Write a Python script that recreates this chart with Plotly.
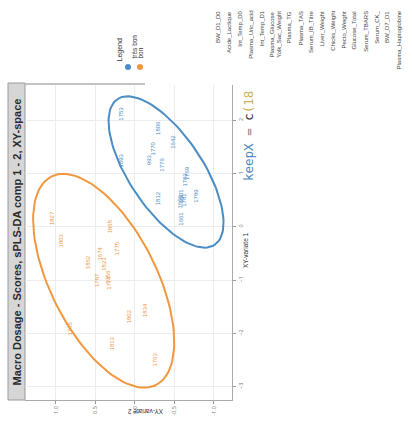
import numpy as np
import plotly.graph_objects as go

# ---- data ----
groups = ["très bon", "bon"]
colors = {"très bon": "#4a8cc4", "bon": "#f0973f"}

tb_names = ["1753", "1806", "1642", "1893", "1770", "993", "1776", "1769",
            "1782", "1812", "1801", "1663", "1781", "1789", "1661"]
tb_var1 = [2.13, 1.85, 1.59, 1.25, 1.47, 1.25, 1.16, 1.00, 0.88, 0.53, 0.59, 0.47, 0.50, 0.59, 0.16]
tb_var2 = [0.17, -0.29, -0.48, 0.17, -0.23, -0.18, -0.34, -0.67, -0.63, -0.29, -0.59, -0.57, -0.63, -0.78, -0.59]

b_names = ["1827", "1803", "1865", "1775", "1862", "1674", "1823", "1787",
           "1756", "1774", "1802", "1834", "1765", "1813", "1763"]
b_var1 = [0.16, -0.25, 0.00, -0.41, -0.66, -0.50, -0.69, -1.00, -0.94, -1.06, -1.69, -1.56, -1.91, -2.19, -2.50]
b_var2 = [1.05, 0.93, 0.32, 0.23, 0.59, 0.44, 0.40, 0.48, 0.34, 0.32, 0.08, -0.13, 0.82, 0.29, -0.25]

var1_ticks = [2, 1, 0, -1, -2, -3]
var2_ticks = [1.0, 0.5, 0.0, -0.5, -1.0]
var2_ticklabels = ["1.0", "0.5", "0.0", "-0.5", "-1.0"]

selected_vars = ["BW_D1_D0", "Acide_Lactique", "Int_Temp_D0", "Plasma_Uric_acid",
                 "Int_Temp_D1", "Plasma_Glucose", "Yolk_Sac_Weight", "Plasma_TG",
                 "Plasma_TAS", "Serum_IB_Titre", "Liver_Weight", "Chicks_Weight",
                 "Pecto_Weight", "Glucose_Total", "Serum_TBARS", "Serum_CK_",
                 "BW_D7_D1", "Plasma_Haptoglobine"]

title_text = "Macro Dosage - Scores, sPLS-DA comp 1 - 2, XY-space"

W, H = 412, 428
def px(x):
    return x / W
def py(y):
    return 1 - y / H

def conf_ellipse(a, b, level_t=2.5, n=120):
    pts = np.column_stack([a, b])
    c = pts.mean(axis=0)
    cov = np.cov(pts.T)
    vals, vecs = np.linalg.eigh(cov)
    t = np.linspace(0, 2 * np.pi, n)
    circ = np.column_stack([np.cos(t), np.sin(t)]) * np.sqrt(vals) * level_t
    e = circ @ vecs.T + c
    return e[:, 0], e[:, 1]

fig = go.Figure()

series = [("très bon", tb_names, tb_var1, tb_var2), ("bon", b_names, b_var1, b_var2)]
annotations = []
for g, names, v1, v2 in series:
    ev2, ev1 = conf_ellipse(v2, v1)
    fig.add_trace(go.Scatter(x=ev2, y=ev1, mode="lines",
                             line=dict(color=colors[g], width=2), showlegend=False,
                             hoverinfo="skip"))
    fig.add_trace(go.Scatter(x=v2, y=v1, mode="markers", marker=dict(size=1, opacity=0),
                             text=names, showlegend=False))
    for nm, a, b in zip(names, v1, v2):
        annotations.append(dict(x=b, y=a, xref="x", yref="y", text=nm, showarrow=False,
                                textangle=-90, font=dict(size=6, color=colors[g],
                                                         family="Liberation Sans")))

# title strip
shapes = [
    dict(type="rect", xref="paper", yref="paper", x0=px(8), x1=px(25), y0=py(400), y1=py(83),
         fillcolor="#d6d6d6", line=dict(color="#9a9a9a", width=1), layer="below"),
    dict(type="line", xref="paper", yref="paper", x0=px(25), x1=px(145), y0=py(84), y1=py(84),
         line=dict(color="#b0b0b0", width=1.5)),
]
annotations.append(dict(x=px(16.5), y=py(242), xref="paper", yref="paper", text="<b>" + title_text + "</b>",
                        showarrow=False, textangle=-90, xanchor="center", yanchor="middle",
                        font=dict(size=11, color="#2a2a2a", family="Liberation Sans")))

# axis titles
annotations.append(dict(x=px(245), y=py(250), xref="paper", yref="paper", text="XY-variate 1",
                        showarrow=False, textangle=-90, font=dict(size=6.5, color="#333", family="Liberation Sans")))
annotations.append(dict(x=px(125), y=py(417), xref="paper", yref="paper", text="XY-variate 2",
                        showarrow=False, textangle=180, font=dict(size=6.5, color="#333", family="Liberation Sans")))

# legend
annotations.append(dict(x=px(113), y=py(64), xref="paper", yref="paper", text="Legend", yanchor="bottom",
                        showarrow=False, textangle=-90, font=dict(size=7, color="#333", family="Liberation Sans")))
for i, g in enumerate(groups):
    xc = [128, 140][i]
    shapes.append(dict(type="circle", xref="paper", yref="paper", x0=px(xc - 3), x1=px(xc + 3),
                       y0=py(70), y1=py(64), fillcolor=colors[g], line=dict(width=0)))
    annotations.append(dict(x=px(xc), y=py(61), xref="paper", yref="paper", text=g, yanchor="bottom",
                            showarrow=False, textangle=-90,
                            font=dict(size=6.5, color="#333", family="Liberation Sans")))

# selected variables list
xs = np.linspace(218, 403, len(selected_vars))
for xv, v in zip(xs, selected_vars):
    annotations.append(dict(x=px(xv), y=py(9), xref="paper", yref="paper", text=v, yanchor="top",
                            showarrow=False, textangle=-90,
                            font=dict(size=6, color="#444", family="Liberation Sans")))

# code fragment
annotations.append(dict(x=px(248), y=py(183), xref="paper", yref="paper", yanchor="bottom",
                        text="<span style='color:#4b86b8'>keepX</span> <span style='color:#888'>=</span> "
                             "<span style='color:#333'>c</span><span style='color:#c9b25a'>(18</span>",
                        showarrow=False, textangle=-90,
                        font=dict(size=12.5, family="DejaVu Sans Mono")))

fig.update_layout(
    width=W, height=H, autosize=False,
    margin=dict(l=0, r=0, t=0, b=0),
    paper_bgcolor="white", plot_bgcolor="white",
    showlegend=False,
    shapes=shapes, annotations=annotations,
    xaxis=dict(domain=[px(25), px(232)], range=[1.39, -1.23],
               tickvals=var2_ticks, ticktext=var2_ticklabels, tickangle=-90,
               tickfont=dict(size=5.5, color="#777"), ticks="outside", ticklen=3, tickcolor="#999",
               showline=True, linecolor="#aaa", linewidth=1, gridcolor="#ececec", zeroline=False),
    yaxis=dict(domain=[py(400), py(85)], range=[-3.25, 2.66], side="right",
               tickvals=var1_ticks, tickangle=-90,
               tickfont=dict(size=5.5, color="#777"), ticks="outside", ticklen=3, tickcolor="#999",
               showline=True, linecolor="#aaa", linewidth=1, gridcolor="#ececec", zeroline=False),
)

fig.write_html("out.html", config={"displayModeBar": False},
               post_script="document.body.style.margin='0';document.body.style.overflow='hidden';")
